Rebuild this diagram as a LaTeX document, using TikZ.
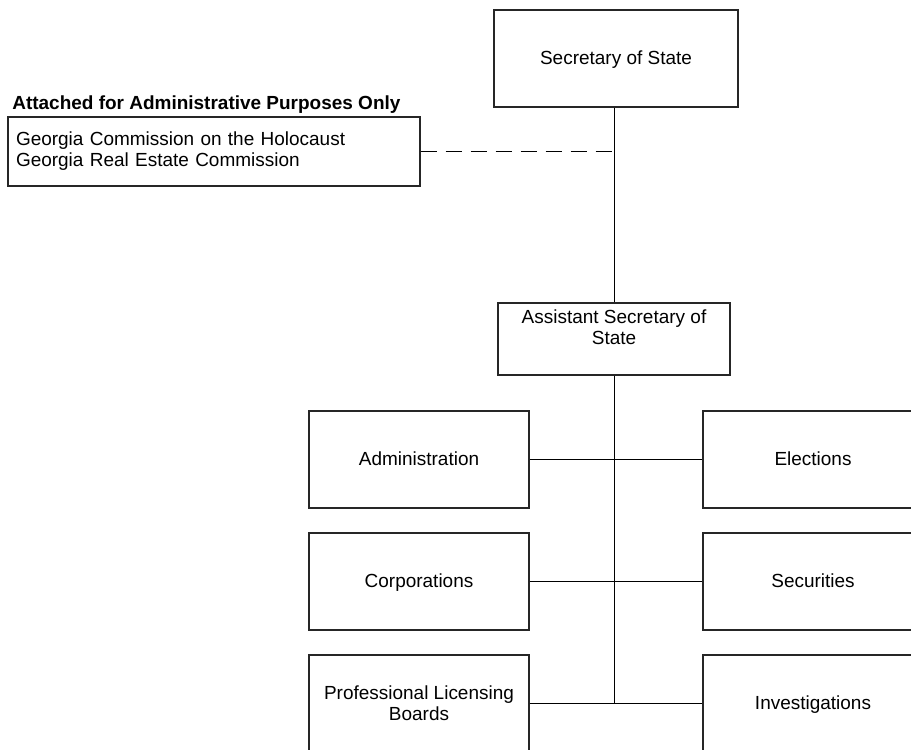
\documentclass[tikz,border=0pt]{standalone}
\usepackage{fontspec}
\setmainfont{Liberation Sans}
\usetikzlibrary{calc}

\begin{document}
\begin{tikzpicture}[
    unit/.style={draw=black!85, line width=0.6pt, minimum width=4.4cm, minimum height=1.94cm,
                 inner sep=0pt, align=center, font=\fontsize{10.8}{12}\selectfont},
    oneline/.style={text height=0.92em, text depth=0.2em},
    hdr/.style={font=\fontsize{10.8}{12}\selectfont\bfseries, inner sep=0pt},
    link/.style={line width=0.45pt}
  ]
    \path[use as bounding box, clip] (0,0) rectangle (18.22,-14.98);

    % top of the chart
    \node[unit, oneline, minimum width=4.88cm] (sos) at (12.32,-1.17) {Secretary of State};
    \node[unit, minimum width=4.64cm, minimum height=1.44cm] (asst) at (12.28,-6.78) {};
    \node[unit, draw=none] (asstlbl) at (12.28,-6.55) {Assistant Secretary of\\State};

    % attached agencies
    \node[hdr, anchor=base west] (atthdr) at (0.24,-2.18) {Attached for Administrative Purposes Only};
    \node[unit, minimum width=8.24cm, minimum height=1.38cm, text width=7.92cm,
          inner xsep=0.16cm, align=left] (att) at (4.28,-3.03)
      {Georgia Commission on the Holocaust\\Georgia Real Estate Commission};

    % divisions
    \node[unit, oneline] (adm) at (8.38,-9.19) {Administration};
    \node[unit, oneline] (elec) at (16.26,-9.19) {Elections};
    \node[unit, oneline] (corp) at (8.38,-11.63) {Corporations};
    \node[unit, oneline] (sec) at (16.26,-11.63) {Securities};
    \node[unit] (plb) at (8.38,-14.07) {Professional Licensing\\Boards};
    \node[unit, oneline] (inv) at (16.26,-14.07) {Investigations};

    \draw[link] (sos.south -| asst.north) -- (asst.north);
    \draw[link, dash pattern=on 0.32cm off 0.18cm] (att.east) -- (att.east -| asst.north);
    \draw[link] (asst.south) -- (asst.south |- plb.east);
    \draw[link] (adm.east) -- (elec.west);
    \draw[link] (corp.east) -- (sec.west);
    \draw[link] (plb.east) -- (inv.west);
  \end{tikzpicture}
\end{document}
